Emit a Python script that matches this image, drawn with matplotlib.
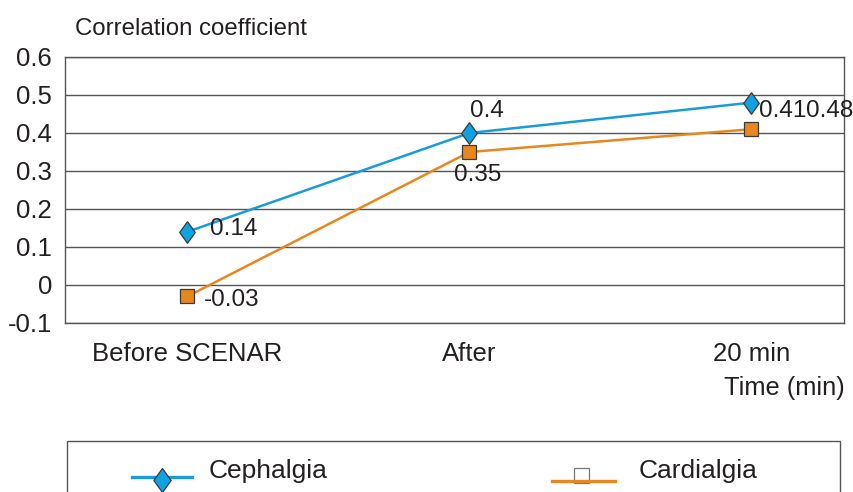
import numpy as np
import matplotlib
matplotlib.use("Agg")
import matplotlib.pyplot as plt
from matplotlib.patches import Rectangle
from matplotlib.lines import Line2D

plt.rcParams["font.family"] = ["Liberation Sans", "DejaVu Sans"]
plt.rcParams["text.color"] = "#231f20"

# Data
categories = ["Before SCENAR", "After", "20 min"]
series_names = ["Cephalgia", "Cardialgia"]
cephalgia = [0.14, 0.40, 0.48]
cardialgia = [-0.03, 0.35, 0.41]
cephalgia_labels = ["0.14", "0.4", "0.48"]
cardialgia_labels = ["-0.03", "0.35", "0.41"]
y_ticks = [-0.1, 0.0, 0.1, 0.2, 0.3, 0.4, 0.5, 0.6]
y_tick_labels = ["-0.1", "0", "0.1", "0.2", "0.3", "0.4", "0.5", "0.6"]

blue = "#1a9cd8"
blue_fill = "#0fa2e2"
orange = "#e8871e"
edge = "#3a3a3a"
grid_col = "#555555"

W, H = 854, 492
fig = plt.figure(figsize=(W / 100, H / 100), dpi=100)
ax = fig.add_axes([65 / W, 1 - 323 / H, (844 - 65) / W, (323 - 57) / H])

x = np.arange(len(categories))
diamond = [(0, 1), (0.72, 0), (0, -1), (-0.72, 0), (0, 1)]

ax.plot(x, cephalgia, color=blue, lw=1.8, marker=diamond, ms=15.6,
        markerfacecolor=blue_fill, markeredgecolor=edge, markeredgewidth=0.9,
        zorder=4)
ax.plot(x, cardialgia, color=orange, lw=1.8, marker="s", ms=10.3,
        markerfacecolor=orange, markeredgecolor=edge, markeredgewidth=0.9,
        zorder=3)

ax.set_xlim(-0.434, 2.328)
ax.set_ylim(-0.1, 0.6)
ax.set_yticks(y_ticks)
ax.set_yticklabels(y_tick_labels)
ax.set_xticks(x)
ax.set_xticklabels(categories)
ax.tick_params(axis="y", length=0, pad=9.4, labelsize=18.5, labelcolor="#231f20")
ax.tick_params(axis="x", length=0, pad=13.5, labelsize=18.5, labelcolor="#231f20")
ax.yaxis.grid(True, color=grid_col, lw=1)
for s in ax.spines.values():
    s.set_color(grid_col)
    s.set_linewidth(1)

# data labels (offsets in points)
ceph_off = [(16.3, -2.3, "left"), (12.7, 11.7, "center"), (39.0, -10.2, "left")]
card_off = [(11.5, -6.9, "left"), (6.2, -20.7, "center"), (5.5, 9.1, "left")]
for i in range(len(categories)):
    dx, dy, ha = ceph_off[i]
    ax.annotate(cephalgia_labels[i], (x[i], cephalgia[i]), xytext=(dx, dy),
                textcoords="offset points", ha=ha, va="baseline", fontsize=17.5,
                annotation_clip=False, zorder=6)
    dx, dy, ha = card_off[i]
    ax.annotate(cardialgia_labels[i], (x[i], cardialgia[i]), xytext=(dx, dy),
                textcoords="offset points", ha=ha, va="baseline", fontsize=17.5,
                annotation_clip=False, zorder=6)

fig.text(75 / W, 1 - 35 / H, "Correlation coefficient", fontsize=17.3,
         ha="left", va="baseline")
fig.text(845 / W, 1 - 395 / H, "Time (min)", fontsize=18.3,
         ha="right", va="baseline")

# legend box drawn in pixel coordinates
lax = fig.add_axes([0, 0, 1, 1], zorder=-1)
lax.set_xlim(0, W)
lax.set_ylim(H, 0)
lax.axis("off")
lax.add_patch(Rectangle((67.3, 441), 840 - 67.3, 80, fill=False,
                        edgecolor=grid_col, lw=1))
lax.add_line(Line2D([131.7, 191.7], [476.7, 476.7], color=blue, lw=2.4))
lax.add_line(Line2D([162], [479.7], marker=diamond, ms=17.3, color=blue,
                    markerfacecolor=blue_fill, markeredgecolor=edge,
                    markeredgewidth=0.9, lw=0))
lax.text(209, 478, series_names[0], fontsize=19, ha="left", va="baseline")
lax.add_line(Line2D([581.5], [475], marker="s", ms=10.8, lw=0,
                    markerfacecolor="white", markeredgecolor="#777777",
                    markeredgewidth=0.9, zorder=2))
lax.add_line(Line2D([551.7, 615], [480.7, 480.7], color=orange, lw=2.4,
                    zorder=3))
lax.text(639, 478, series_names[1], fontsize=19, ha="left", va="baseline")

fig.savefig("out.png", dpi=100)
